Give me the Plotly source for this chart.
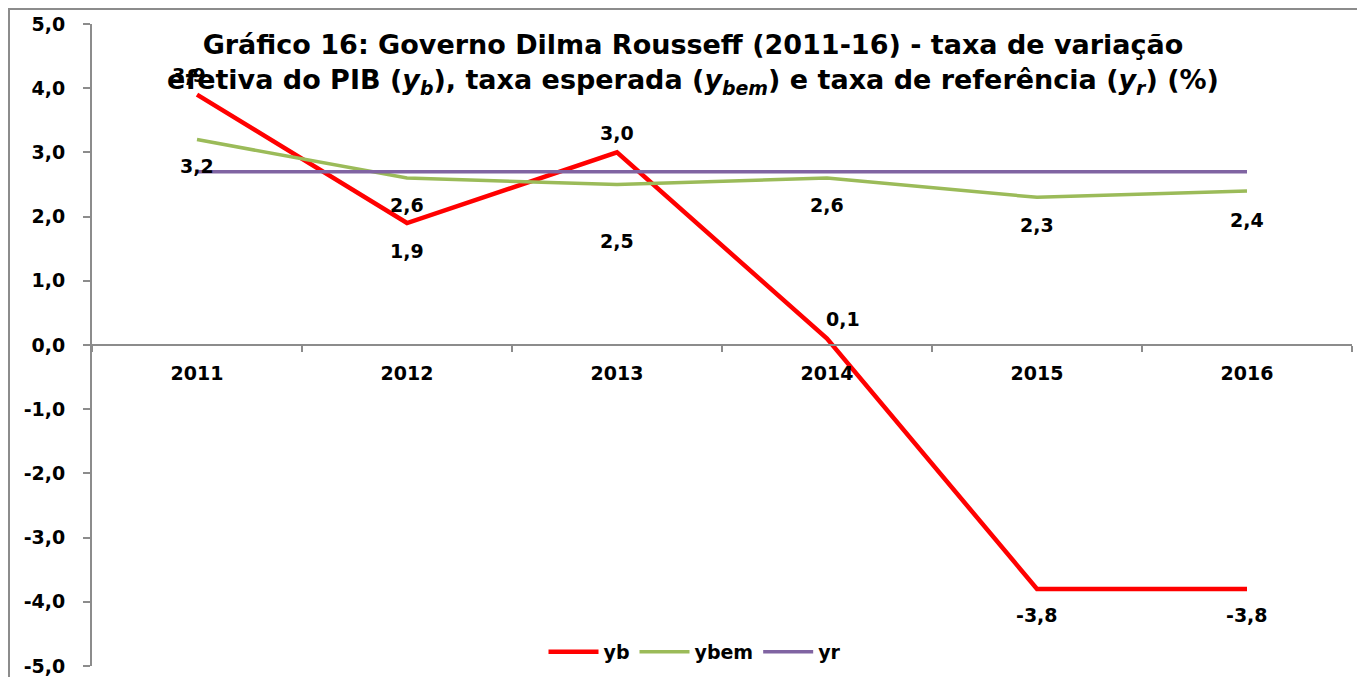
import plotly.graph_objects as go

years = ["2011", "2012", "2013", "2014", "2015", "2016"]
yb = [3.9, 1.9, 3.0, 0.1, -3.8, -3.8]
ybem = [3.2, 2.6, 2.5, 2.6, 2.3, 2.4]
yr = [2.7, 2.7, 2.7, 2.7, 2.7, 2.7]
y_ticks = [-5, -4, -3, -2, -1, 0, 1, 2, 3, 4, 5]

# label offsets (pixels)
yb_shift = [20, -28, 19, 20, -26, -26]
yb_xshift = [-8, 0, 0, 16, 0, 0]
ybem_shift = [-26, -27, -56, -27, -28, -29]

FONT = "DejaVu Sans"
FS = 19

# page has an 8px body margin: size figure to fit window
W, H = 1357, 669
L, R, T, B = 84, 13, 16, 11
PW, PH = W - L - R, H - T - B


def fmt(v):
    return f"{v:.1f}".replace(".", ",")


fig = go.Figure()
fig.add_trace(go.Scatter(x=years, y=yb, mode="lines", name="yb",
                         line=dict(color="#FF0000", width=4.5)))
fig.add_trace(go.Scatter(x=years, y=ybem, mode="lines", name="ybem",
                         line=dict(color="#9BBB59", width=3.5)))
fig.add_trace(go.Scatter(x=years, y=yr, mode="lines", name="yr",
                         line=dict(color="#8064A2", width=3.5)))

ann = []
for i, v in enumerate(yb):
    ann.append(dict(x=i, y=v, xref="x", yref="y", text=fmt(v), showarrow=False,
                    yshift=yb_shift[i], xshift=yb_xshift[i],
                    font=dict(family=FONT, size=FS, color="black", weight="bold")))
for i, v in enumerate(ybem):
    ann.append(dict(x=i, y=v, xref="x", yref="y", text=fmt(v), showarrow=False,
                    yshift=ybem_shift[i],
                    font=dict(family=FONT, size=FS, color="black", weight="bold")))

fig.update_layout(
    width=W, height=H,
    margin=dict(l=L, r=R, t=T, b=B, autoexpand=False),
    paper_bgcolor="white", plot_bgcolor="white",
    showlegend=True,
    legend=dict(orientation="h", x=(695 - 8 - L) / PW, xanchor="center",
                y=(658 - 652 + 8) / PH, yanchor="middle",
                font=dict(family=FONT, size=FS, color="black", weight="bold"),
                bgcolor="rgba(255,255,255,0)", tracegroupgap=0, itemwidth=50),
    title=dict(
        text="Gráfico 16: Governo Dilma Rousseff (2011-16) - taxa de variação<br>"
             "efetiva do PIB (<i>y<sub>b</sub></i>), taxa esperada (<i>y<sub>bem</sub></i>) "
             "e taxa de referência (<i>y<sub>r</sub></i>) (%)",
        x=(693 - 8) / W, xanchor="center", y=1 - 46 / H, yanchor="top",
        font=dict(family=FONT, size=27, color="black", weight="bold"),
    ),
    xaxis=dict(
        type="category", range=[-0.5, 5.5], anchor="free", position=0.5, automargin=False,
        showline=True, linecolor="#8c8c8c", linewidth=2,
        ticks="outside", tickson="boundaries", ticklen=6, tickcolor="#8c8c8c", tickwidth=2,
        showgrid=False, zeroline=False,
        tickfont=dict(family=FONT, size=FS, color="black", weight="bold"),
        ticklabelstandoff=11,
    ),
    yaxis=dict(
        range=[-5, 5], tickvals=y_ticks, ticktext=[fmt(v) for v in y_ticks], automargin=False,
        showline=True, linecolor="#8c8c8c", linewidth=2,
        ticks="outside", ticklen=7, tickcolor="#8c8c8c", tickwidth=2,
        showgrid=False, zeroline=False,
        tickfont=dict(family=FONT, size=FS, color="black", weight="bold"),
        ticklabelstandoff=14,
    ),
    annotations=ann,
    shapes=[dict(type="rect", xref="paper", yref="paper",
                 x0=(1 - L) / PW, x1=1.2, y0=-0.2, y1=1 + (T - 1) / PH,
                 line=dict(color="#8c8c8c", width=2), fillcolor="rgba(0,0,0,0)", layer="below")],
)

fig.write_html("out.html")
